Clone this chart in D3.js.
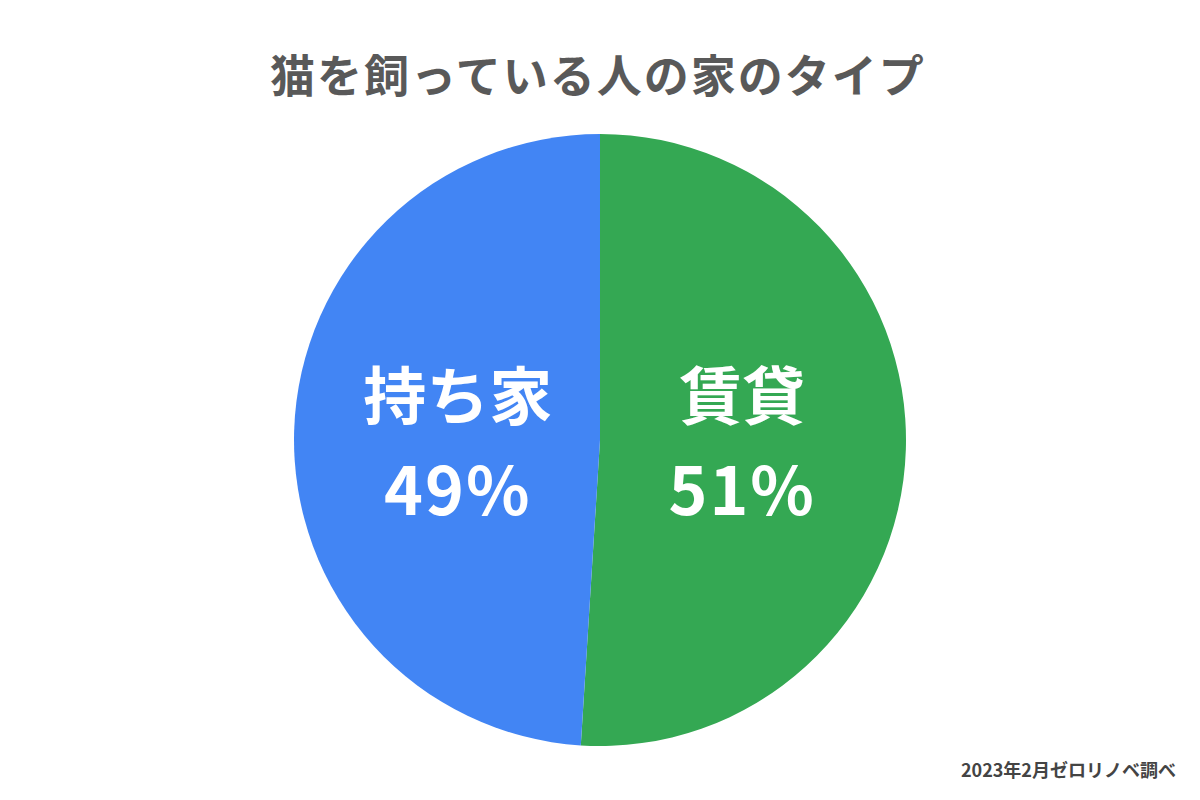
<!DOCTYPE html>
<html><head><meta charset="utf-8">
<script src="https://cdn.jsdelivr.net/npm/d3@7"></script>
<style>body{margin:0;background:#fff}svg{display:block}</style>
</head><body>
<script>
const categories = ["賃貸", "持ち家"];
const values = [51, 49];
const colors = ["#34A853", "#4285F4"];
const title = "猫を飼っている人の家のタイプ";
const source = "2023年2月ゼロリノベ調べ";

const W = 1200, H = 800;
const cx = 600, cy = 440, R = 306;
const font = "'Noto Sans CJK JP', sans-serif";
const svg = d3.select("body").append("svg").attr("width", W).attr("height", H);

svg.append("text").attr("x", 598).attr("y", 93).attr("text-anchor", "middle")
  .attr("font-family", font).attr("font-weight", 700).attr("font-size", 45)
  .attr("fill", "#595959").attr("letter-spacing", 2).text(title);

const data = categories.map((c, i) => ({cat: c, val: values[i], color: colors[i]}));
const pie = d3.pie().sort(null).value(d => d.val);
const arc = d3.arc().innerRadius(0).outerRadius(R);
const arcs = pie(data);
const g = svg.append("g").attr("transform", `translate(${cx},${cy})`);
g.selectAll("path").data(arcs).join("path").attr("d", arc).attr("fill", d => d.data.color);

const labelArc = d3.arc().innerRadius(R * 0.465).outerRadius(R * 0.465);
arcs.forEach(a => {
  const [x] = labelArc.centroid(a);
  const t = g.append("text").attr("text-anchor", "middle")
    .attr("font-family", font).attr("font-weight", 700).attr("fill", "#fff");
  t.append("tspan").attr("x", x).attr("y", -21).attr("font-size", 63).text(a.data.cat);
  t.append("tspan").attr("x", x).attr("y", 75).attr("font-size", 66).attr("letter-spacing", 2).text(a.data.val + "%");
});

svg.append("text").attr("x", 1176).attr("y", 777).attr("text-anchor", "end")
  .attr("font-family", font).attr("font-weight", 700).attr("font-size", 18)
  .attr("fill", "#444").text(source);
</script>
</body></html>
